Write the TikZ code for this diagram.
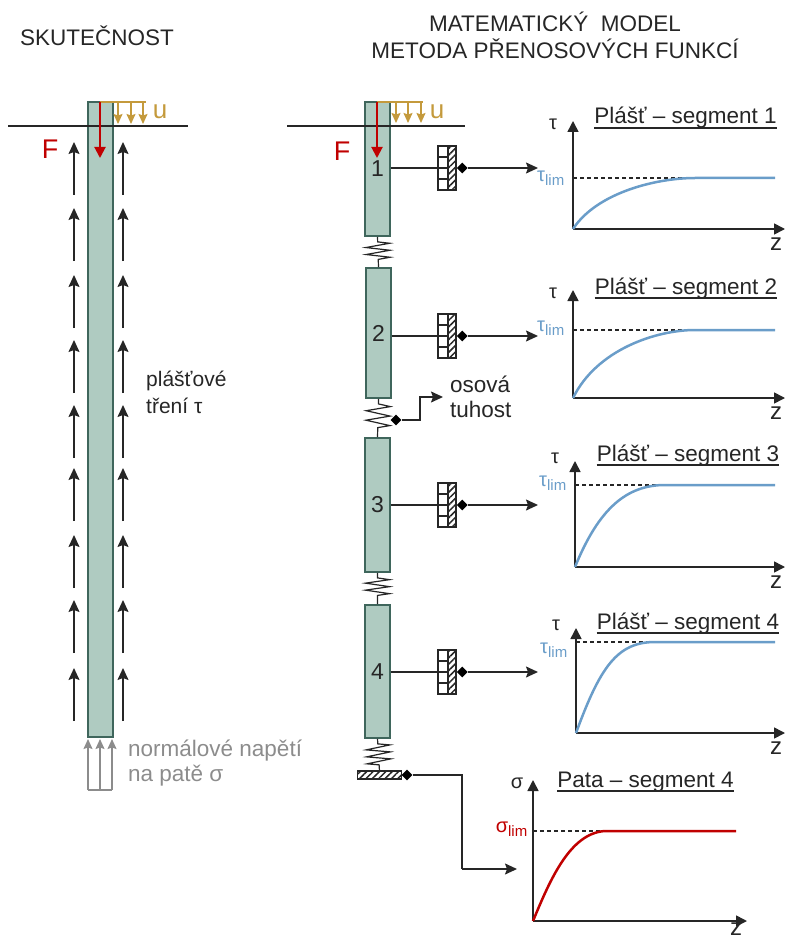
\documentclass[tikz,border=0pt]{standalone}
\usepackage{fontspec}
\setmainfont{Liberation Sans}
\usetikzlibrary{shapes.geometric,arrows.meta,positioning,calc,patterns.meta,decorations.pathmorphing}
\definecolor{pilefill}{HTML}{AFCBC1}
\definecolor{piledraw}{HTML}{3F665C}
\definecolor{loadtan}{HTML}{C49A3C}
\definecolor{forcered}{HTML}{C00000}
\definecolor{curveblue}{HTML}{6A9DC9}
\definecolor{inkdark}{HTML}{262626}
\definecolor{stressgray}{HTML}{8C8C8C}
\newcommand{\fs}[1]{\fontsize{#1}{#1}\selectfont}
\tikzset{
  pile style/.style={rectangle, draw=piledraw, fill=pilefill, line width=1.8pt, inner sep=0pt,
    text=inkdark, font=\fs{23}},
  txt style/.style={inner sep=0pt, text=inkdark, font=\fs{22.5}},
  ground style/.style={line width=1.6pt, draw=inkdark},
  arr style/.style={-{Stealth[length=12pt,width=11pt,inset=2pt]}, line width=1.5pt, draw=inkdark},
  axis style/.style={-{Triangle[length=11pt,width=11pt]}, line width=1.6pt, draw=inkdark},
  force style/.style={-{Triangle[length=11pt,width=11pt]}, line width=2pt, draw=forcered},
  load style/.style={-{Stealth[length=10pt,width=9pt,inset=1.5pt]}, line width=1.5pt, draw=loadtan},
  spring style/.style={draw=inkdark, line width=1.2pt, decorate,
    decoration={zigzag, segment length=#1, amplitude=12pt, pre length=5pt, post length=6pt}},
  box style/.style={rectangle, draw=inkdark, fill=white, line width=1.2pt, inner sep=0pt,
    minimum width=10pt, minimum height=44pt, outer sep=0pt},
  hatch style/.style={rectangle, draw=inkdark, line width=1.2pt, inner sep=0pt, outer sep=0pt,
    pattern={Lines[angle=45,distance=4.5pt,line width=1.5pt]}, pattern color=inkdark,
    minimum width=8pt, minimum height=44pt},
  dia style/.style={diamond, fill=black, inner sep=0pt, minimum size=11pt},
  dash style/.style={line width=1.3pt, draw=inkdark, dash pattern=on 4pt off 3pt},
  curve style/.style={line width=2.5pt}
}

\begin{document}
\begin{tikzpicture}[x=1pt,y=-1pt]
\useasboundingbox (0,0) rectangle (785,941);

% titles
\node[txt style, anchor=west] (real) at (20,36) {SKUTEČNOST};
\node[txt style, align=center] (model) at (555,35.5) {MATEMATICKÝ\ \ MODEL\\[5pt]METODA PŘENOSOVÝCH FUNKCÍ};

% left pile
\node[pile style, minimum width=25pt, minimum height=635pt] (pile) at (100.5,419.5) {};
\foreach \t in {142,208,275,340,405,468,535,600,668}{
  \draw[arr style] (74,\t+53) -- (74,\t);
  \draw[arr style] (123,\t+53) -- (123,\t);
}
\foreach \x in {88,100,112}
  \draw[-{Stealth[length=10pt,width=9pt,inset=1.5pt]}, line width=1.3pt, draw=stressgray] (\x,790) -- (\x,739);
\draw[line width=1.3pt, draw=stressgray] (88,790) -- (112,790);
\draw[ground style] (8,126) -- (188,126);
\draw[line width=1.5pt, draw=loadtan] (100,102) -- (146,102);
\foreach \x in {118,131,143}
  \draw[load style] (\x,102) -- (\x,124);
\draw[force style] (100,102) -- (100,158);
\node[txt style, text=loadtan, font=\fs{26}] (uleft) at (160,112) {u};
\node[txt style, text=forcered, font=\fs{27}] (fleft) at (50,149) {F};
\node[txt style, anchor=west, align=left, font=\fs{21}] (frict) at (146,392) {plášťové\\[6pt]tření τ};
\node[txt style, anchor=west, align=left, text=stressgray] (norm) at (128,763) {normálové napětí\\[3pt]na patě σ};

% right pile, segments
\node[pile style, minimum width=25pt, minimum height=134pt] (s1) at (377.5,169) {1};
\node[pile style, minimum width=25pt, minimum height=130pt] (s2) at (378.5,333) {2};
\node[pile style, minimum width=25pt, minimum height=134pt] (s3) at (377.5,505) {3};
\node[pile style, minimum width=25pt, minimum height=133pt] (s4) at (377.5,671.5) {4};
\node[hatch style, minimum width=44pt, minimum height=8pt] (plate) at (379.5,775) {};
\draw[spring style=7pt] (s1.south) -- (s2.north);
\draw[spring style=9.5pt] (s2.south) -- (s3.north);
\draw[spring style=7pt] (s3.south) -- (s4.north);
\draw[spring style=7pt] (s4.south) -- (plate.north);

\draw[ground style] (287,126) -- (465,126);
\draw[line width=1.5pt, draw=loadtan] (377,102) -- (423,102);
\foreach \x in {396,408,421}
  \draw[load style] (\x,102) -- (\x,123);
\draw[force style] (377,102) -- (377,158);
\node[txt style, text=loadtan, font=\fs{26}] (uright) at (437,112) {u};
\node[txt style, text=forcered, font=\fs{27}] (fright) at (342,151) {F};

% shaft sliders
\foreach \n/\y in {1/168,2/336,3/505,4/672}{
  \node[box style, anchor=west] (b\n) at (438,\y) {};
  \node[hatch style, right=0pt of b\n] (h\n) {};
  \node[dia style, right=0.5pt of h\n] (d\n) {};
  \coordinate (t\n) at (538,\y);
  \draw[line width=1.2pt, draw=inkdark] ($(b\n.north west)!.25!(b\n.south west)$) -- ($(b\n.north east)!.25!(b\n.south east)$);
  \draw[line width=1.2pt, draw=inkdark] ($(b\n.north west)!.75!(b\n.south west)$) -- ($(b\n.north east)!.75!(b\n.south east)$);
  \draw[line width=1.4pt, draw=inkdark] (s\n.east |- b\n) -- (b\n.east);
  \draw[arr style] (d\n) -- (t\n);
}

% axial stiffness
\node[dia style] (dk) at (396,420) {};
\coordinate (tk) at (443,397);
\draw[arr style] (dk) -| ($(tk)+(-23,0)$) -- (tk);
\node[txt style, anchor=west, align=left] (stiff) at (450,397) {osová\\[3pt]tuhost};

% shaft charts
\foreach \n/\ox/\oy/\top/\lim/\end/\ttx/\tty/\ly/\ty in {
  1/573/229/121/178/695/685.5/117/178/124,
  2/573/398/290/330/695/686/287/328/293,
  3/575/567/461/485/665/688/454/483/458,
  4/576/733/628/642/655/688/622/650/625}{
  \coordinate (o\n) at (\ox,\oy);
  \coordinate (ya\n) at (\ox,\top);
  \coordinate (xa\n) at (785,\oy);
  \coordinate (l\n) at (\ox,\lim);
  \coordinate (e\n) at (\end,\lim);
  \draw[axis style] (o\n) -- (ya\n);
  \draw[axis style] (o\n) -- (xa\n);
  \draw[dash style] (l\n) -- (e\n);
  \draw[curve style, draw=curveblue] (o\n) .. controls ($(o\n)!.72!(l\n)+(24,0)$) and ($(e\n)+(-38,0)$) .. (e\n) -- (775,\lim);
  \node[txt style, font=\fs{20}] (y\n) at (\ox-20,\ty) {τ};
  \node[txt style, font=\fs{20}, text=curveblue, anchor=east] (lim\n) at (\ox-8,\ly) {τ\textsubscript{\fs{15}lim}};
  \node[txt style, font=\fs{24}] (z\n) at (776,\oy+15) {z};
  \node[txt style, anchor=base] (tt\n) at (\ttx,\tty+7) {Plášť – segment \n};
  \draw[line width=1.4pt, draw=inkdark] ([yshift=-4pt]tt\n.base west) -- ([yshift=-4pt]tt\n.base east);
}

% toe chart
\node[dia style] (dp) at (407,775) {};
\coordinate (tp) at (517,869);
\coordinate (bend) at (462,775);
\coordinate (bend2) at (462,869);
\draw[line width=1.5pt, draw=inkdark] (dp) -- (bend) -- (bend2);
\draw[arr style] (bend2) -- (tp);
\coordinate (op) at (533,921);
\coordinate (yap) at (533,780);
\coordinate (xap) at (747,921);
\coordinate (lp) at (533,831);
\coordinate (ep) at (605,831);
\draw[axis style] (op) -- (yap);
\draw[axis style] (op) -- (xap);
\draw[dash style] (lp) -- (ep);
\draw[curve style, draw=forcered] (op) .. controls (550,880) and (570,833) .. (ep) -- (736,831);
\node[txt style, font=\fs{20}] (yp) at (517,783) {σ};
\node[txt style, font=\fs{20}, text=forcered, anchor=east] (limp) at (528,829) {σ\textsubscript{\fs{15}lim}};
\node[txt style, font=\fs{24}] (zp) at (736,929) {z};
\node[txt style, anchor=base] (ttp) at (645.5,787) {Pata – segment 4};
\draw[line width=1.4pt, draw=inkdark] ([yshift=-4pt]ttp.base west) -- ([yshift=-4pt]ttp.base east);

\end{tikzpicture}
\end{document}
